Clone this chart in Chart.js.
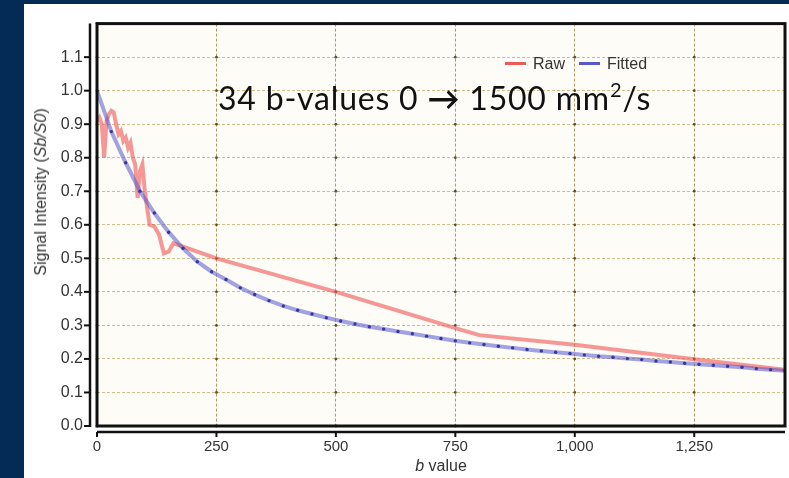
<!DOCTYPE html>
<html>
<head>
<meta charset="utf-8">
<script src="https://cdn.jsdelivr.net/npm/chart.js@4.4.1/dist/chart.umd.min.js"></script>
<style>
  html, body { margin: 0; padding: 0; }
  body { width: 789px; height: 478px; background: #032b55; position: relative; overflow: hidden; font-family: "Liberation Sans", Arial, sans-serif; }
  #panel { position: absolute; left: 24px; top: 4px; width: 765px; height: 474px; background: #ffffff; }
  #signalChart { position: absolute; left: 0; top: 0; }
  .ytitle { position: absolute; left: 41px; top: 192px; transform: translate(-50%, -50%) rotate(-90deg); font-size: 16px; color: #333; white-space: nowrap; }
  .xtitle { position: absolute; left: 441px; top: 466px; transform: translate(-50%, -50%); font-size: 16px; color: #333; white-space: nowrap; }
  .note { position: absolute; left: 218px; top: 82px; font-family: Lato, "Open Sans", sans-serif; font-size: 32px; letter-spacing: 0.8px; color: #111; white-space: nowrap; line-height: 1; }
  .note .arrow { font-weight: bold; }
  .note sup { font-size: 20px; vertical-align: 13px; line-height: 0; }
  .legend { position: absolute; left: 505px; top: 55px; font-size: 16px; color: #333; white-space: nowrap; line-height: 18px; }
  .legend span.swatch { display: inline-block; width: 21px; height: 3px; vertical-align: middle; margin-right: 7px; position: relative; top: -1px; }
  .legend span.item { margin-right: 14px; }
</style>
</head>
<body>
<div id="panel"></div>
<canvas id="signalChart" width="789" height="478"></canvas>
<div class="ytitle">Signal Intensity (<i>Sb/S0</i>)</div>
<div class="xtitle"><i>b</i> value</div>
<div class="note">34 b-values 0 <span class="arrow">→</span> 1500 mm<sup>2</sup>/s</div>
<div class="legend">
  <span class="item"><span class="swatch" style="background:#ee5a5a"></span>Raw</span><span class="item"><span class="swatch" style="background:#5858c8"></span>Fitted</span>
</div>
<script>
// measured signal at each acquired b value
const rawB = [0, 5, 10, 15, 20, 25, 30, 35, 40, 45, 50, 55, 60, 65, 70, 75, 80, 85, 90, 95, 100,
  110, 120, 130, 140, 150, 160, 250, 500, 750, 800, 1000, 1250, 1500];
const rawSignal = [0.91, 0.92, 0.90, 0.80, 0.91, 0.93, 0.94, 0.935, 0.90, 0.87, 0.88, 0.85, 0.86, 0.83, 0.845, 0.80, 0.78, 0.68, 0.76, 0.78, 0.70,
  0.60, 0.595, 0.57, 0.515, 0.52, 0.545, 0.50, 0.40, 0.292, 0.271, 0.242, 0.199, 0.158];

// fitted decay curve, sampled every 30 s/mm2
const fitB = [0, 30, 60, 90, 120, 150, 180, 210, 240, 270, 300, 330, 360, 390, 420, 450, 480, 510, 540, 570,
  600, 630, 660, 690, 720, 750, 780, 810, 840, 870, 900, 930, 960, 990, 1020, 1050, 1080, 1110, 1140, 1170,
  1200, 1230, 1260, 1290, 1320, 1350, 1380, 1410, 1440, 1470, 1500];
const fitSignal = [1.000, 0.878, 0.785, 0.700, 0.635, 0.578, 0.530, 0.490, 0.460, 0.437, 0.412, 0.392, 0.374, 0.358, 0.345, 0.334, 0.323, 0.313, 0.304, 0.296,
  0.289, 0.282, 0.275, 0.268, 0.261, 0.254, 0.248, 0.243, 0.238, 0.233, 0.228, 0.224, 0.220, 0.216, 0.212, 0.208, 0.205, 0.201, 0.198, 0.194,
  0.191, 0.187, 0.184, 0.181, 0.178, 0.175, 0.171, 0.168, 0.165, 0.162, 0.159];

const xTicks = [0, 250, 500, 750, 1000, 1250];
const yTicks = [0, 0.1, 0.2, 0.3, 0.4, 0.5, 0.6, 0.7, 0.8, 0.9, 1.0, 1.1, 1.2];

const toPoints = (xs, ys) => xs.map((x, i) => ({ x: x, y: ys[i] }));

// cream plot background, tick-crossing dots and the double frame
const framePlugin = {
  id: 'frame',
  beforeDraw(chart) {
    const { ctx, chartArea: a } = chart;
    ctx.save();
    ctx.fillStyle = '#fdfcf6';
    ctx.fillRect(a.left, a.top, a.right - a.left, a.bottom - a.top);
    ctx.restore();
  },
  beforeDatasetsDraw(chart) {
    const { ctx, scales } = chart;
    ctx.save();
    ctx.fillStyle = 'rgba(70,55,25,0.85)';
    xTicks.forEach(xv => {
      const px = scales.x.getPixelForValue(xv);
      yTicks.forEach(yv => {
        const py = scales.y.getPixelForValue(yv);
        ctx.beginPath();
        ctx.arc(px, py, 1.4, 0, Math.PI * 2);
        ctx.fill();
      });
    });
    ctx.restore();
  },
  afterDraw(chart) {
    const { ctx, chartArea: a, scales } = chart;
    ctx.save();
    ctx.strokeStyle = '#111';
    ctx.lineWidth = 3;
    ctx.strokeRect(a.left, a.top, a.right - a.left, a.bottom - a.top);
    // offset y axis line with ticks
    const ax = a.left - 7;
    ctx.lineWidth = 2.5;
    ctx.beginPath();
    ctx.moveTo(ax, a.top);
    ctx.lineTo(ax, scales.y.getPixelForValue(0) + 1);
    ctx.stroke();
    ctx.lineWidth = 2;
    yTicks.slice(0, -1).forEach(v => {
      const py = scales.y.getPixelForValue(v);
      ctx.beginPath();
      ctx.moveTo(ax - 6, py);
      ctx.lineTo(ax, py);
      ctx.stroke();
    });
    // offset x axis line with ticks
    const ay = a.bottom + 6;
    ctx.lineWidth = 2.5;
    ctx.beginPath();
    ctx.moveTo(a.left, ay);
    ctx.lineTo(a.right, ay);
    ctx.stroke();
    ctx.lineWidth = 2;
    xTicks.forEach(v => {
      const px = scales.x.getPixelForValue(v);
      ctx.beginPath();
      ctx.moveTo(px, ay);
      ctx.lineTo(px, ay + 5);
      ctx.stroke();
    });
    ctx.restore();
  }
};

new Chart(document.getElementById('signalChart'), {
  type: 'line',
  data: {
    datasets: [{
      label: 'Fitted',
      data: toPoints(fitB, fitSignal),
      borderColor: 'rgba(88,88,205,0.55)',
      borderWidth: 4,
      pointRadius: 1.7,
      pointBackgroundColor: '#3636a6',
      pointBorderWidth: 0,
      order: 1
    }, {
      label: 'Raw',
      data: toPoints(rawB, rawSignal),
      borderColor: 'rgba(240,80,80,0.58)',
      borderWidth: 4,
      pointRadius: 0,
      order: 2
    }]
  },
  options: {
    responsive: false,
    animation: false,
    devicePixelRatio: 1,
    layout: { padding: { top: 15, right: 3, left: 0, bottom: 0 } },
    plugins: {
      legend: { display: false },
      tooltip: { enabled: false }
    },
    scales: {
      x: {
        type: 'linear',
        min: 0,
        max: 1440,
        afterFit: s => { s.height = 52; },
        afterBuildTicks: s => { s.ticks = xTicks.map(v => ({ value: v })); },
        ticks: {
          padding: 12,
          color: '#333',
          font: { family: 'Liberation Sans', size: 15 },
          callback: v => v.toLocaleString('en-US')
        },
        grid: { color: 'rgba(150,120,60,0.75)', drawTicks: false, lineWidth: 1 },
        border: { display: false, dash: [3, 2] }
      },
      y: {
        min: 0,
        max: 1.2,
        afterFit: s => { s.width = 97; },
        afterBuildTicks: s => { s.ticks = yTicks.map(v => ({ value: v })); },
        ticks: {
          padding: 14,
          color: '#333',
          font: { family: 'Liberation Sans', size: 16 },
          callback: v => (v > 1.15 ? '' : v.toFixed(1))
        },
        grid: { color: 'rgba(200,175,115,0.8)', drawTicks: false, lineWidth: 1 },
        border: { display: false, dash: [3, 2] }
      }
    }
  },
  plugins: [framePlugin]
});
</script>
</body>
</html>
